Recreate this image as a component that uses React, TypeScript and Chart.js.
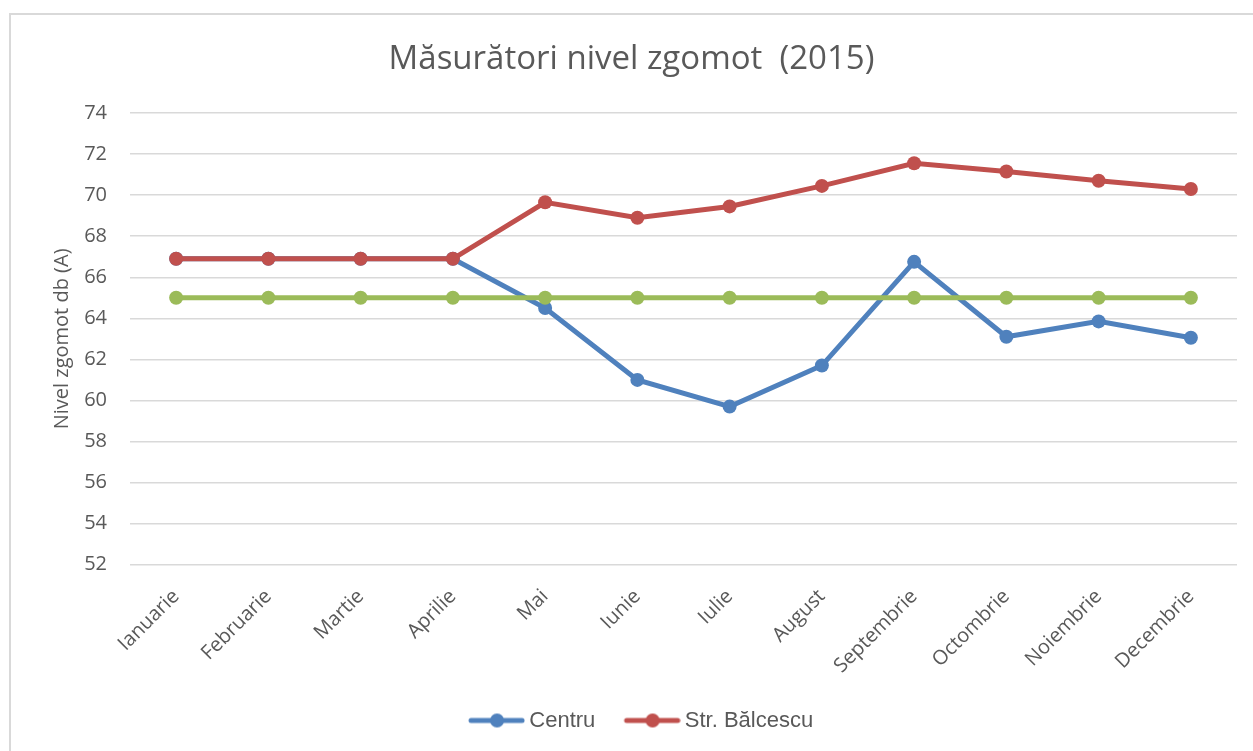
import React, { useEffect, useRef } from "react";
import { Chart, registerables } from "chart.js";

Chart.register(...registerables);

const months = [
  "Ianuarie", "Februarie", "Martie", "Aprilie", "Mai", "Iunie",
  "Iulie", "August", "Septembrie", "Octombrie", "Noiembrie", "Decembrie",
];
const centru = [66.9, 66.9, 66.9, 66.9, 64.5, 61.0, 59.7, 61.7, 66.75, 63.1, 63.85, 63.05];
const balcescu = [66.9, 66.9, 66.9, 66.9, 69.65, 68.9, 69.45, 70.45, 71.55, 71.15, 70.7, 70.3];
const limita = [65, 65, 65, 65, 65, 65, 65, 65, 65, 65, 65, 65];

const BLUE = "#4F81BD";
const RED = "#C0504D";
const GREEN = "#9BBB59";
const TEXT = "#595959";
const GRID = "#D9D9D9";

function makeIcon(color: string): HTMLCanvasElement {
  const c = document.createElement("canvas");
  c.width = 82;
  c.height = 18;
  const ctx = c.getContext("2d")!;
  ctx.strokeStyle = color;
  ctx.lineWidth = 5;
  ctx.lineCap = "round";
  ctx.beginPath();
  ctx.moveTo(82 - 54, 9);
  ctx.lineTo(82 - 3, 9);
  ctx.stroke();
  ctx.fillStyle = color;
  ctx.beginPath();
  ctx.arc(82 - 28, 9, 7, 0, Math.PI * 2);
  ctx.fill();
  return c;
}

export default function App() {
  const ref = useRef<HTMLCanvasElement>(null);
  useEffect(() => {
    const canvas = ref.current!;
    const icons = [makeIcon(BLUE), makeIcon(RED)];
    const chart = new Chart(canvas, {
      type: "line",
      data: {
        labels: months,
        datasets: [
          {
            label: "Centru",
            data: centru,
            borderColor: BLUE,
            backgroundColor: BLUE,
            borderWidth: 5,
            pointRadius: 7,
            pointBorderWidth: 0,
            order: 3,
          },
          {
            label: "Str. Bălcescu",
            data: balcescu,
            borderColor: RED,
            backgroundColor: RED,
            borderWidth: 5,
            pointRadius: 7,
            pointBorderWidth: 0,
            order: 2,
          },
          {
            label: "Limită",
            data: limita,
            borderColor: GREEN,
            backgroundColor: GREEN,
            borderWidth: 5,
            pointRadius: 7,
            pointBorderWidth: 0,
            order: 1,
          },
        ],
      },
      options: {
        responsive: false,
        animation: false,
        devicePixelRatio: 1,
        layout: { padding: { left: 26, right: 16, top: 0, bottom: 9.5 } },
        plugins: {
          title: {
            display: true,
            text: "Măsurători nivel zgomot  (2015)",
            color: TEXT,
            font: { family: "'Open Sans', sans-serif", size: 33, weight: "normal" },
            padding: { top: 40.2, bottom: 33.2 },
          },
          legend: {
            position: "bottom",
            labels: {
              usePointStyle: true,
              pointStyleWidth: 68.5,
              padding: 10,
              color: TEXT,
              font: { family: "'Liberation Sans', Arial, sans-serif", size: 22 },
              filter: (item: any) => item.datasetIndex < 2,
              sort: (a: any, b: any) => a.datasetIndex - b.datasetIndex,
              generateLabels: (ch: any) => {
                const items = (Chart.defaults.plugins.legend.labels as any).generateLabels(ch);
                return items.map((it: any) => ({
                  ...it,
                  pointStyle: icons[it.datasetIndex] || it.pointStyle,
                }));
              },
            },
          },
          tooltip: { enabled: false },
        },
        scales: {
          x: {
            offset: true,
            grid: { display: false, drawTicks: false },
            border: { display: false },
            ticks: {
              color: TEXT,
              autoSkip: false,
              minRotation: 45,
              maxRotation: 45,
              padding: 20,
              font: { family: "'Open Sans', sans-serif", size: 20 },
            },
            afterFit: (s: any) => {
              s.height = 134.8;
            },
          },
          y: {
            min: 52,
            max: 74,
            ticks: {
              stepSize: 2,
              color: TEXT,
              padding: 23,
              font: { family: "'Open Sans', sans-serif", size: 20 },
            },
            grid: { color: GRID, lineWidth: 1.5, drawTicks: false },
            border: { display: false },
            title: {
              display: true,
              text: "Nivel zgomot db (A)",
              color: TEXT,
              font: { family: "'Open Sans', sans-serif", size: 20 },
              padding: { top: 24, bottom: 0 },
            },
            afterFit: (s: any) => {
              s.width = 104;
            },
          },
        },
      },
    });
    return () => chart.destroy();
  }, []);

  return (
    <div
      style={{
        position: "fixed",
        left: 0,
        top: 0,
        width: 1253,
        height: 751,
        overflow: "hidden",
        background: "#fff",
      }}
    >
      <canvas ref={ref} width={1253} height={751} style={{ position: "absolute", left: 0, top: 0 }} />
      <div
        style={{
          position: "absolute",
          left: 9,
          top: 13,
          width: 1300,
          height: 800,
          border: "2px solid #D9D9D9",
          pointerEvents: "none",
        }}
      />
    </div>
  );
}
